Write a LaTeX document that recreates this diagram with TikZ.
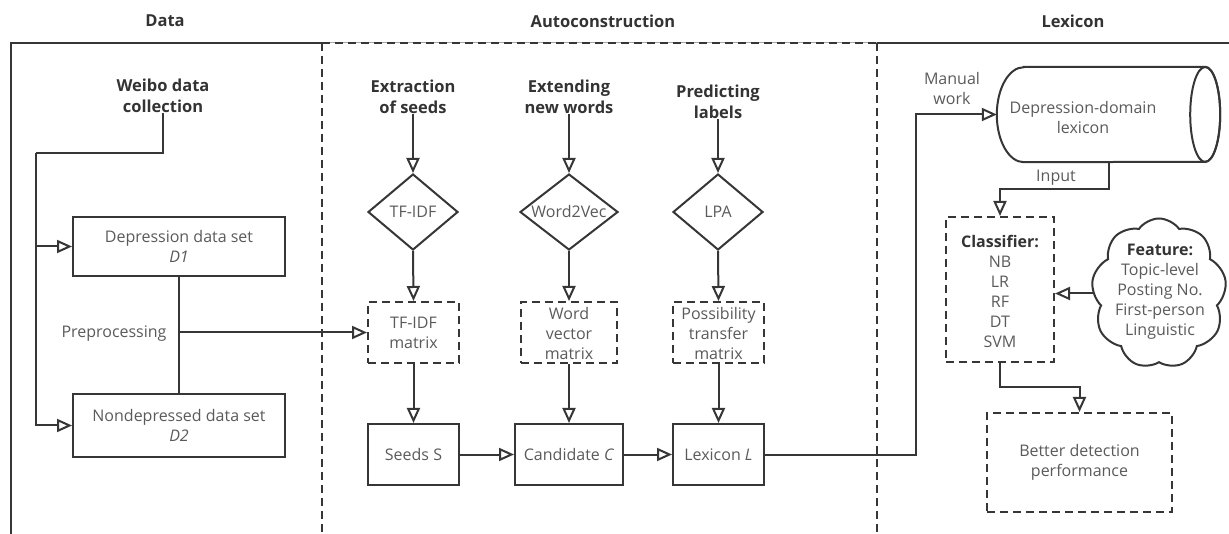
\documentclass[tikz,border=0pt]{standalone}
\usepackage{fontspec}
\setmainfont{Open Sans}
\usetikzlibrary{arrows.meta,shapes.geometric,shapes.symbols}
\definecolor{ln}{HTML}{363636}
\definecolor{tx}{HTML}{5A5A5A}
\definecolor{hd}{HTML}{333333}
\begin{document}
\begin{tikzpicture}[x=1pt,y=-1pt,
  every node/.style={font=\fontsize{16}{20}\selectfont, text=tx, inner sep=0pt, align=center},
  hdr/.style={font=\fontsize{16.5}{21}\selectfont\bfseries, text=hd},
  line/.style={draw=ln, line width=2pt},
  arr/.style={line, -{Triangle[open,length=15pt,width=13pt,line width=2pt]}},
  sbox/.style={draw=ln, line width=2pt, rectangle},
  dbox/.style={sbox, dash pattern=on 8pt off 5pt},
  dia/.style={diamond, draw=ln, line width=2pt, inner sep=0pt},
  dsh/.style={line, dash pattern=on 8pt off 5pt}
]
\useasboundingbox (0,0) rectangle (1229,534);
% frame
\draw[line] (11,534) -- (11,43) -- (322,43);
\draw[line] (877,43) -- (1229,43);
\draw[draw=ln!45, line width=1pt] (322,43) -- (877,43);
\draw[dsh] (322,43) -- (877,43);
\draw[dsh] (322,43) -- (322,534);
\draw[dsh] (877,43) -- (877,534);
% headers
\node[hdr] (hData) at (165,21) {Data};
\node[hdr] (hAuto) at (603,21) {Autoconstruction};
\node[hdr] (hLex) at (1073,21) {Lexicon};
% data column
\node[hdr] (weibo) at (163,96) {Weibo data\\collection};
\node[sbox, minimum width=212, minimum height=59] (d1) at (179,246.5) {Depression data set\\\textit{D1}};
\node[sbox, minimum width=212, minimum height=63] (d2) at (179,425.5) {Nondepressed data set\\\textit{D2}};
\node (pre) at (114,334) {Preprocessing};
\coordinate (split) at (36,153);
% autoconstruction headers
\node[hdr] (ext) at (413,97) {Extraction\\of seeds};
\node[hdr] (extd) at (569,97) {Extending\\new words};
\node[hdr] (pred) at (718,102) {Predicting\\labels};
% diamonds
\node[dia, minimum width=90, minimum height=76] (dTF) at (413,212) {};
\node (tTF) at (dTF) {TF-IDF};
\node[dia, minimum width=98, minimum height=76] (dW2V) at (569,212) {};
\node (tW2V) at (dW2V) {Word2Vec};
\node[dia, minimum width=90, minimum height=76] (dLPA) at (718,212) {};
\node (tLPA) at (dLPA) {LPA};
% dashed boxes
\node[dbox, minimum width=91, minimum height=61] (tfm) at (413.5,332.5) {};
\node (ttfm) at (tfm) {TF-IDF\\matrix};
\node[dbox, minimum width=96, minimum height=61] (wvm) at (569,332.5) {};
\node (twvm) at (569,334) {Word\\vector\\matrix};
\node[dbox, minimum width=91, minimum height=61] (ptm) at (718.5,332.5) {};
\node (tptm) at (718.5,334) {Possibility\\transfer\\matrix};
% solid boxes
\node[sbox, minimum width=91, minimum height=61] (seeds) at (413.5,454.5) {Seeds S};
\node[sbox, minimum width=108, minimum height=61] (cand) at (569,454.5) {Candidate \textit{C}};
\node[sbox, minimum width=91, minimum height=61] (lexL) at (718.5,454.5) {Lexicon \textit{L}};
% lexicon column: cylinder drawn from an anchor box
\node[minimum width=223, minimum height=95] (cyl) at (1108.5,114.5) {};
\draw[line] ([xshift=27pt]cyl.north west) -- ([xshift=-15pt]cyl.north east)
  arc[start angle=90, end angle=-90, x radius=15pt, y radius=47.5pt]
  -- ([xshift=27pt]cyl.south west)
  arc[start angle=270, end angle=90, x radius=27pt, y radius=47.5pt] -- cycle;
\draw[line] ([xshift=-15pt]cyl.east) ellipse [x radius=15pt, y radius=47.5pt];
\node (tcyl) at (1083,118) {Depression-domain\\lexicon};
\node (manual) at (952,89) {Manual\\work};
\node (input) at (1056,178) {Input};
\node[dbox, minimum width=108, minimum height=145] (clf) at (1000,289.5) {};
\node (tclf) at (1000,291) {\textbf{\textcolor{hd}{Classifier:}}\\NB\\LR\\RF\\DT\\SVM};
\node[cloud, draw=ln, line width=2pt, cloud puffs=9, cloud puff arc=110, minimum width=135, minimum height=150] (feat) at (1159,293.5) {};
\node (tfeat) at (1160,292) {\textbf{\textcolor{hd}{Feature:}}\\Topic-level\\Posting No.\\First-person\\Linguistic};
\node[dbox, minimum width=185, minimum height=99] (better) at (1079.5,462.5) {Better detection\\performance};
\coordinate (mw) at (916,114.5);
\coordinate (inp) at (1108.5,189);
\coordinate (cb) at (1000,387);
% connectors
\draw[line] (weibo.south) |- (split);
\draw[arr] (split) |- (d1.west);
\draw[arr] (split) |- (d2.west);
\draw[line] (d1.south) -- (d2.north);
\draw[arr] (d1.south |- tfm.west) -- (tfm.west);
\draw[arr] (ext.south) -- (dTF.north);
\draw[arr] (extd.south) -- (dW2V.north);
\draw[arr] (pred.south) -- (dLPA.north);
\draw[arr] (dTF.south) -- (tfm.north);
\draw[arr] (dW2V.south) -- (wvm.north);
\draw[arr] (dLPA.south) -- (ptm.north);
\draw[arr] (tfm.south) -- (seeds.north);
\draw[arr] (wvm.south) -- (cand.north);
\draw[arr] (ptm.south) -- (lexL.north);
\draw[arr] (seeds.east) -- (cand.west);
\draw[arr] (cand.east) -- (lexL.west);
\draw[arr] (lexL.east) -| (mw) -- (cyl.west);
\draw[arr] (cyl.south) -- (inp) -| (clf.north);
\draw[arr] (feat.west) -- (feat.west -| clf.east);
\draw[arr] (clf.south) -- (cb) -| (better.north);
\end{tikzpicture}
\end{document}
